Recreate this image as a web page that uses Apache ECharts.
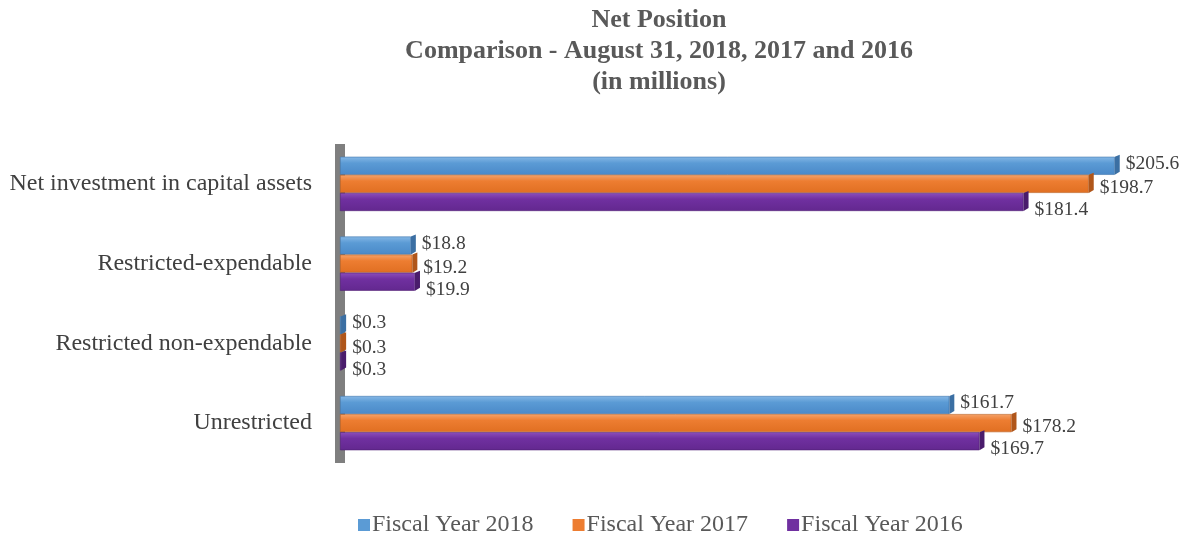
<!DOCTYPE html>
<html>
<head>
<meta charset="utf-8">
<script src="https://cdn.jsdelivr.net/npm/echarts@6/dist/echarts.min.js"></script>
<style>
  html, body { margin: 0; padding: 0; background: #ffffff; }
  #chart { width: 1184px; height: 535px; }
</style>
</head>
<body>
<div id="chart"></div>
<script>
// Net position by component, in millions of dollars
const categories = [
  'Net investment in capital assets',
  'Restricted-expendable',
  'Restricted non-expendable',
  'Unrestricted'
];
const seriesNames = ['Fiscal Year 2018', 'Fiscal Year 2017', 'Fiscal Year 2016'];
const fy2018 = [205.6, 18.8, 0.3, 161.7];
const fy2017 = [198.7, 19.2, 0.3, 178.2];
const fy2016 = [181.4, 19.9, 0.3, 169.7];

const serif = '"Liberation Serif", "Times New Roman", serif';

// Fill colours: light top edge fading into the base colour
function shade(top, mid, bottom) {
  return new echarts.graphic.LinearGradient(0, 0, 0, 1, [
    { offset: 0, color: top },
    { offset: 0.35, color: mid },
    { offset: 1, color: bottom }
  ]);
}
const palette = [
  { base: '#5b9bd5', fill: shade('#86b8e6', '#5b9bd5', '#4a89c8'), edge: '#3f75ad', cap: '#3b6fa3', dy: -2 },
  { base: '#ed7d31', fill: shade('#f4a26a', '#ed7d31', '#e06f22'), edge: '#b85c1d', cap: '#b0561a', dy: 4 },
  { base: '#7030a0', fill: shade('#8c4fbb', '#7030a0', '#63288f'), edge: '#4f1f73', cap: '#4a1c6c', dy: 8 }
];

const BAR_GAP_RATIO = 0.32;

function makeSeries(name, values, idx) {
  const p = palette[idx];
  return {
    name: name,
    type: 'bar',
    data: values,
    barGap: '0%',
    barCategoryGap: (BAR_GAP_RATIO * 100) + '%',
    itemStyle: {
      color: p.fill,
      borderColor: p.edge,
      borderWidth: 0.6
    },
    label: {
      show: true,
      position: 'right',
      distance: 11,
      offset: [0, p.dy],
      formatter: function (prm) { return '$' + prm.value.toFixed(1); },
      fontFamily: serif,
      fontSize: 19.5,
      color: '#404040'
    },
    emphasis: { disabled: true }
  };
}

// Darker end face on each bar, placed with the same value scale
function makeCaps(values, idx) {
  const p = palette[idx];
  return {
    type: 'custom',
    silent: true,
    z: 3,
    data: values.map((v, i) => [v, i]),
    renderItem: function (params, api) {
      const end = api.coord([api.value(0), api.value(1)]);
      const band = api.size([0, 1])[1];
      const barH = band * (1 - BAR_GAP_RATIO) / 3;
      const top = end[1] - band * (1 - BAR_GAP_RATIO) / 2 + idx * barH;
      const w = 5;
      return {
        type: 'polygon',
        shape: {
          points: [
            [end[0], top],
            [end[0] + w, top - 2],
            [end[0] + w, top + barH - 3],
            [end[0], top + barH]
          ]
        },
        style: { fill: p.cap }
      };
    }
  };
}

const chart = echarts.init(document.getElementById('chart'), null, { renderer: 'canvas' });
chart.setOption({
  animation: false,
  backgroundColor: '#ffffff',
  color: palette.map(p => p.base),
  graphic: [{
    type: 'text',
    x: 659,
    y: 5,
    style: {
      text: 'Net Position\nComparison - August 31, 2018, 2017 and 2016\n(in millions)',
      fontFamily: serif,
      fontWeight: 'bold',
      fontSize: 26,
      lineHeight: 31,
      textAlign: 'center',
      fill: '#595959'
    }
  }],
  legend: {
    data: seriesNames.map((n, i) => ({ name: n, itemStyle: { color: palette[i].base, borderWidth: 0 } })),
    top: 508,
    left: 353,
    itemWidth: 12,
    itemHeight: 12,
    itemGap: 39,
    icon: 'rect',
    textStyle: { fontFamily: serif, fontSize: 24, color: '#595959', padding: [0, 0, 0, -3] }
  },
  grid: { left: 340, right: 15, top: 144, height: 319, containLabel: false },
  xAxis: {
    type: 'value',
    min: 0,
    max: 220,
    show: false
  },
  yAxis: {
    type: 'category',
    data: categories,
    inverse: true,
    axisTick: { show: false },
    axisLine: { show: true, lineStyle: { color: '#7f7f7f', width: 10, cap: 'butt' } },
    axisLabel: {
      margin: 28,
      fontFamily: serif,
      fontSize: 24,
      color: '#404040'
    },
    splitLine: { show: false }
  },
  series: [
    makeSeries(seriesNames[0], fy2018, 0),
    makeSeries(seriesNames[1], fy2017, 1),
    makeSeries(seriesNames[2], fy2016, 2),
    makeCaps(fy2018, 0),
    makeCaps(fy2017, 1),
    makeCaps(fy2016, 2)
  ]
});
</script>
</body>
</html>
